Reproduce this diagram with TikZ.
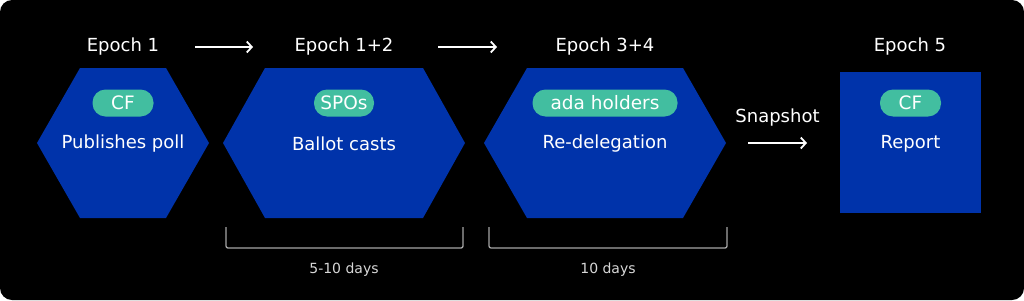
\documentclass[tikz,border=0pt]{standalone}
\usepackage{fontspec}
\setmainfont{DejaVu Sans}
\usetikzlibrary{arrows.meta,positioning,calc}
\definecolor{cHex}{RGB}{0,51,170}
\definecolor{cPill}{RGB}{66,190,160}
\definecolor{cBrk}{RGB}{165,165,165}
\definecolor{cSpan}{RGB}{215,215,215}
\tikzset{
  epoch/.style={text=white, font=\fontsize{18}{20}\selectfont, inner sep=0pt},
  role/.style={text=white, font=\fontsize{18}{20}\selectfont, inner sep=0pt},
  pill/.style={fill=cPill, rounded corners=13pt, minimum height=27pt, minimum width=61pt,
               inner xsep=6pt, inner ysep=0pt, text=white, font=\fontsize{18.5}{20}\selectfont},
  span/.style={text=cSpan, font=\fontsize{14}{16}\selectfont, inner sep=0pt},
  arr/.style={-{Straight Barb[length=5pt,width=11pt]}, white, line width=1.8pt},
  brk/.style={cBrk, line width=1.3pt, rounded corners=2pt},
}
% hexagon: name, centre x, half width, half width of top edge
\newcommand{\hexa}[4]{%
  \fill[cHex] (#2-#3,143) -- (#2-#4,68) -- (#2+#4,68) -- (#2+#3,143)
    -- (#2+#4,218) -- (#2-#4,218) -- cycle;
  \coordinate (#1) at (#2,143);}

\begin{document}
\begin{tikzpicture}[x=1pt, y=-1pt]
  \fill[black, rounded corners=12pt] (0,0) rectangle (1024,300);
  \useasboundingbox (0,0) rectangle (1024,300);

  % stages
  \hexa{h1}{123}{86}{43}
  \hexa{h2}{344}{121}{79}
  \hexa{h3}{605}{121}{78}
  \fill[cHex] (840,72) rectangle (981,213);
  \coordinate (h4) at (910.5,143);

  % epoch headings
  \node[epoch] (ep1)  at (123,47) {Epoch 1};
  \node[epoch] (ep12) at (344,47) {Epoch 1+2};
  \node[epoch] (ep34) at (605,47) {Epoch 3+4};
  \node[epoch] (ep5)  at (910,47) {Epoch 5};

  % actors and actions
  \node[pill] (p1) at ($(h1)+(0,-40)$) {CF};
  \node[pill, minimum width=60pt] (p2) at ($(h2)+(0,-40)$) {SPOs};
  \node[pill, minimum width=145pt] (p3) at ($(h3)+(0,-40)$) {ada holders};
  \node[pill] (p4) at ($(h4)+(0,-40)$) {CF};
  \node[role] (r1) at ($(h1)+(0,1)$) {Publishes poll};
  \node[role] (r2) at ($(h2)+(0,1)$) {Ballot casts};
  \node[role] (r3) at ($(h3)+(0,1)$) {Re-delegation};
  \node[role] (r4) at ($(h4)+(0,1)$) {Report};

  % arrows
  \coordinate (a1s) at (195,47);  \coordinate (a1e) at (253,47);
  \coordinate (a2s) at (438,47);  \coordinate (a2e) at (497,47);
  \coordinate (a3s) at (748,143); \coordinate (a3e) at (807,143);
  \draw[arr] (a1s) -- (a1e);
  \draw[arr] (a2s) -- (a2e);
  \draw[arr] (a3s) -- (a3e);
  \node[epoch, above=17pt of $(a3s)!0.5!(a3e)$] (snap) {Snapshot};

  % durations
  \draw[brk] (226,227) -- (226,248) -- (463,248) -- (463,227);
  \draw[brk] (489,227) -- (489,248) -- (727,248) -- (727,227);
  \node[span] (d1) at (344,270) {5-10 days};
  \node[span] (d2) at (608,270) {10 days};
\end{tikzpicture}
\end{document}
